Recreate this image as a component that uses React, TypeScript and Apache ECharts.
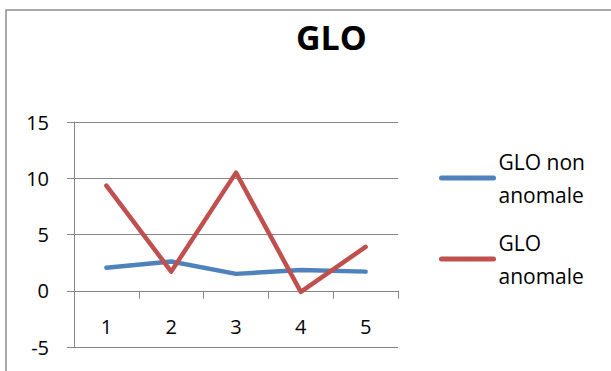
import React, { useEffect, useRef } from "react";
import * as echarts from "echarts";

// Series data for the GLO chart
const categories = ["1", "2", "3", "4", "5"];
const nonAnomale = [2.05, 2.6, 1.5, 1.85, 1.7];
const anomale = [9.35, 1.7, 10.5, -0.1, 3.9];
const seriesNames = ["GLO non anomale", "GLO anomale"];
const legendLabels: Record<string, string> = {
  "GLO non anomale": "GLO non\nanomale",
  "GLO anomale": "GLO\nanomale",
};

const FONT = "'Open Sans', 'Liberation Sans', sans-serif";
const GRID_COLOR = "#868686";

export default function App() {
  const ref = useRef<HTMLDivElement>(null);

  useEffect(() => {
    if (!ref.current) return;
    const chart = echarts.init(ref.current, undefined, { renderer: "svg" });
    chart.setOption({
      animation: false,
      backgroundColor: "#ffffff",
      textStyle: { fontFamily: FONT },
      title: {
        text: "GLO",
        left: 296,
        top: 20,
        padding: 0,
        textStyle: { fontFamily: FONT, fontWeight: "bold", fontSize: 34, color: "#000" },
      },
      graphic: [
        {
          type: "rect",
          shape: { x: 6, y: 10, width: 800, height: 600 },
          style: { fill: "none", stroke: "#8c8c8c", lineWidth: 1.5 },
          silent: true,
        },
      ],
      legend: {
        orient: "vertical",
        left: 439,
        top: 128.5,
        padding: 0,
        itemGap: -18,
        itemWidth: 52,
        itemHeight: 4,
        lineStyle: { width: 5, cap: "round" },
        data: seriesNames,
        formatter: (name: string) => legendLabels[name] ?? name,
        textStyle: {
          fontFamily: FONT,
          fontSize: 21,
          lineHeight: 33,
          color: "#000",
          padding: [33, 0, 0, 0],
        },
      },
      grid: {
        left: 74,
        right: 213,
        top: 122,
        bottom: 24,
        containLabel: false,
        outerBoundsMode: "none",
      },
      xAxis: {
        type: "category",
        data: categories,
        boundaryGap: true,
        axisLine: { show: true, onZero: true, lineStyle: { color: GRID_COLOR, width: 1 } },
        axisTick: { show: true, length: 8, inside: false, lineStyle: { color: GRID_COLOR } },
        axisLabel: { margin: -31, fontSize: 20, color: "#000", fontFamily: FONT },
        splitLine: { show: false },
      },
      yAxis: {
        type: "value",
        min: -5,
        max: 15,
        interval: 5,
        axisLine: { show: true, onZero: false, lineStyle: { color: GRID_COLOR, width: 1 } },
        axisTick: { show: true, length: 7, lineStyle: { color: GRID_COLOR } },
        axisLabel: { margin: 25, fontSize: 20, color: "#000", fontFamily: FONT },
        splitLine: { show: true, lineStyle: { color: GRID_COLOR, width: 1 } },
      },
      series: [
        {
          name: seriesNames[0],
          type: "line",
          data: nonAnomale,
          symbol: "none",
          color: "#4F81BD",
          lineStyle: { width: 4.5, color: "#4F81BD", join: "round", cap: "round" },
        },
        {
          name: seriesNames[1],
          type: "line",
          data: anomale,
          symbol: "none",
          color: "#C0504D",
          lineStyle: { width: 4.5, color: "#C0504D", join: "round", cap: "round" },
        },
      ],
    });
    return () => chart.dispose();
  }, []);

  return <div ref={ref} style={{ width: 611, height: 371, position: "absolute", left: 0, top: 0 }} />;
}
